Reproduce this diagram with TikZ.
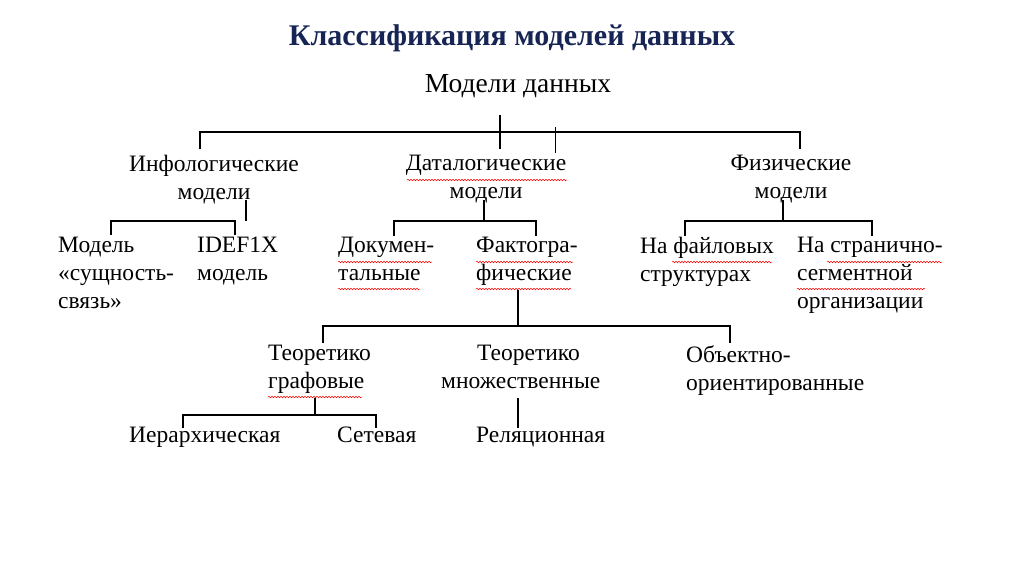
\documentclass[tikz,border=0pt]{standalone}
\usepackage{fontspec}
\setmainfont{Liberation Serif}
\usetikzlibrary{decorations.pathmorphing}
\definecolor{navy}{RGB}{23,37,84}
\begin{document}
\begin{tikzpicture}[x=1pt,y=-1pt,
  lbl/.style={font=\fontsize{23.5}{28}\selectfont, align=left, inner sep=0pt, anchor=north west},
  lblc/.style={font=\fontsize{23.5}{28}\selectfont, align=center, inner sep=0pt, anchor=north},
  ln/.style={line width=1.3pt},
  wavy/.style={red, line width=0.5pt, decorate, decoration={snake, amplitude=0.8pt, segment length=3pt}}]
\useasboundingbox (0,0) rectangle (1024,574);
\node[font=\fontsize{30}{34}\selectfont\bfseries, text=navy] (title) at (512,38) {Классификация моделей данных};
\node[font=\fontsize{27.5}{32}\selectfont] (root) at (518,86) {Модели данных};
\node[lblc] (info) at (214,155) {Инфологические\\модели};
\node[lblc] (data) at (486,155) {Даталогические\\модели};
\node[lblc] (phys) at (791,155) {Физические\\модели};
\node[lbl] (er) at (58,237) {Модель\\«сущность-\\связь»};
\node[lbl] (idef) at (197,237) {IDEF1X\\модель};
\node[lbl] (doc) at (338,237) {Докумен-\\тальные};
\node[lbl] (fact) at (476,237) {Фактогра-\\фические};
\node[lbl] (file) at (640,237) {На файловых\\структурах};
\node[lbl] (page) at (797,237) {На странично-\\сегментной\\организации};
\node[lbl] (graph) at (268,345) {Теоретико\\графовые};
\node[lbl] (set) at (441,345) {\hspace*{36pt}Теоретико\\множественные};
\node[lbl] (obj) at (686,345) {Объектно-\\ориентированные};
\node[lbl] (hier) at (129,427) {Иерархическая};
\node[lbl] (net) at (337,427) {Сетевая};
\node[lbl] (rel) at (476,427) {Реляционная};
% level 1
\draw[ln] (500,115) -- (500,149);
\draw[ln] (200,149) -- (200,132) -- (800,132) -- (800,149);
\draw[line width=0.5pt] (555,127) -- (555,153);
% info
\draw[ln] (246,200) -- (246,221);
\draw[ln] (111,235) -- (111,221) -- (235,221) -- (235,235);
% data
\draw[ln] (484,200) -- (484,221);
\draw[ln] (394,236) -- (394,221) -- (536,221) -- (536,236);
% phys
\draw[ln] (783,200) -- (783,221);
\draw[ln] (685,236) -- (685,221) -- (872,221) -- (872,236);
% fact
\draw[ln] (518,290) -- (518,326);
\draw[ln] (323,343) -- (323,326) -- (730,326) -- (730,343);
% graph
\draw[ln] (315,398) -- (315,415);
\draw[ln] (183,428) -- (183,415) -- (376,415) -- (376,428);
\draw[ln] (518,398) -- (518,428);
% spell-check wavy underlines
\draw[wavy] (407,180) -- (567,180);
\draw[wavy] (338,262) -- (432,262);
\draw[wavy] (338,289) -- (420,289);
\draw[wavy] (476,262) -- (573,262);
\draw[wavy] (476,289) -- (571,289);
\draw[wavy] (672,262) -- (772,262);
\draw[wavy] (827,262) -- (942,262);
\draw[wavy] (797,289) -- (925,289);
\draw[wavy] (268,397) -- (362,397);
\end{tikzpicture}
\end{document}
